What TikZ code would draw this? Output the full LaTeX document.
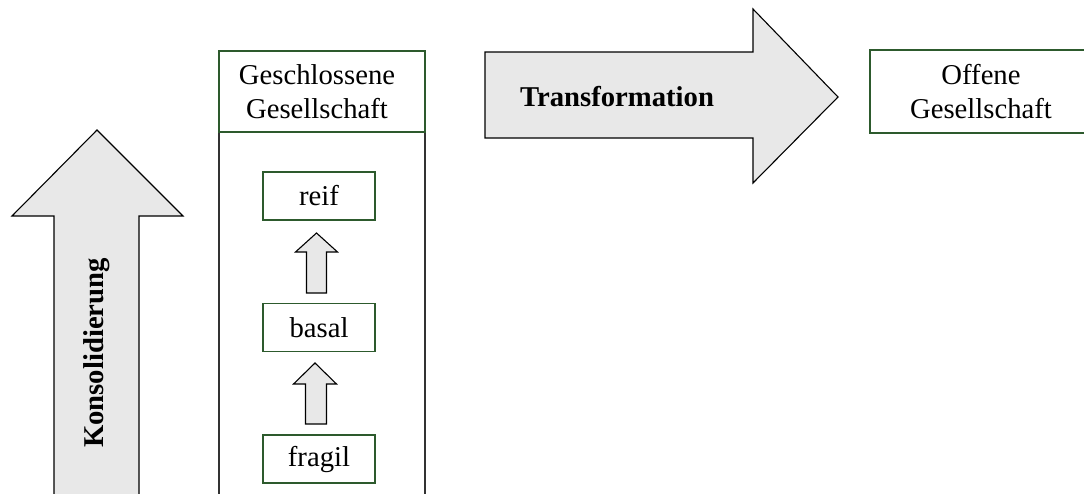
\documentclass[tikz,border=0pt]{standalone}
\usepackage{fontspec}
\setmainfont{Liberation Serif}
\definecolor{boxgreen}{RGB}{45,90,45}
\definecolor{arrowfill}{RGB}{232,232,232}
\definecolor{colline}{RGB}{50,50,50}
\begin{document}
\begin{tikzpicture}[x=1pt,y=-1pt,
  txt/.style={font=\fontsize{28.7}{34}\selectfont, align=center, inner sep=0pt},
  gbox/.style={draw=boxgreen, line width=1.3pt, fill=white, minimum width=112pt, minimum height=48pt, inner sep=0pt, font=\fontsize{28.7}{34}\selectfont},
  blockarrow/.style={draw=black, line width=1.1pt, fill=arrowfill, line join=miter},
  colside/.style={draw=colline, line width=1.3pt}
]
\clip (0,0) rectangle (1084,493);
\fill[white] (0,0) rectangle (1084,493);

% Konsolidierung arrow
\draw[blockarrow] (54,500) -- (54,216) -- (12,216) -- (97,130) -- (183,216) -- (139,216) -- (139,500);
\node[txt, font=\bfseries\fontsize{28.7}{34}\selectfont, rotate=90] (kons) at (97,353) {Konsolidierung};

% Column
\draw[colside] (219,132) -- (219,500);
\draw[colside] (425,132) -- (425,500);
\draw[draw=boxgreen, line width=1.3pt, fill=white] (219,51) rectangle (425,132);
\node[txt] (geschl) at (317,91.5) {Geschlossene\\Gesellschaft};

% stage boxes
\node[gbox] (reif) at (319,196) {reif};
\node[gbox] (basal) at (319,327.5) {basal};
\node[gbox] (fragil) at (319,459) {fragil};

% small arrows
\draw[blockarrow] (306.5,293) -- (306.5,252) -- (295.5,252) -- (316.5,233) -- (337.5,252) -- (326.5,252) -- (326.5,293) -- cycle;
\draw[blockarrow] (305.5,424) -- (305.5,384) -- (293.5,384) -- (315,363) -- (336.5,384) -- (326.5,384) -- (326.5,424) -- cycle;

% Transformation arrow
\draw[blockarrow] (485,52) -- (753,52) -- (753,9) -- (838,97) -- (753,183) -- (753,138) -- (485,138) -- cycle;
\node[txt, font=\bfseries\fontsize{28.7}{34}\selectfont] (trans) at (617,97) {Transformation};

% Offene Gesellschaft
\draw[draw=boxgreen, line width=1.3pt, fill=white] (870,50) rectangle (1100,133);
\node[txt] (offen) at (981,91.5) {Offene\\Gesellschaft};
\end{tikzpicture}
\end{document}
